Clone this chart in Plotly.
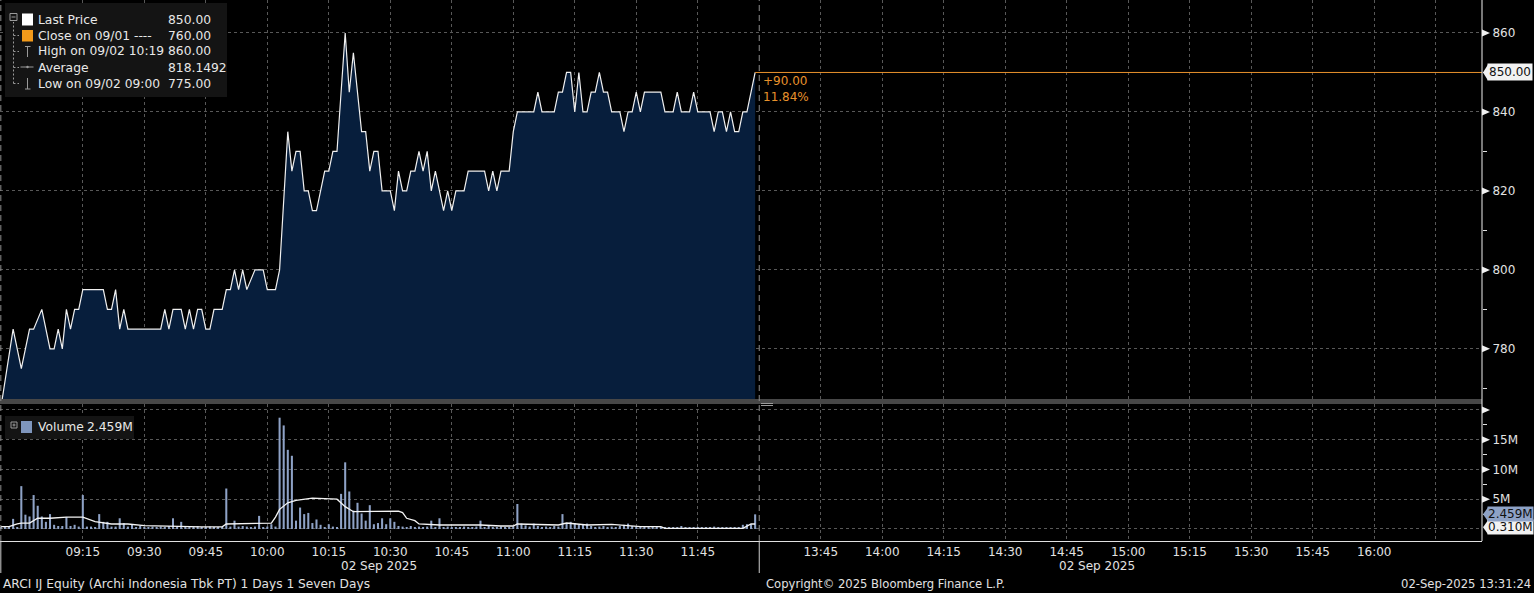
import plotly.graph_objects as go

# ---------------- data ----------------
price_times = ["08:55", "08:58", "09:00", "09:02", "09:03", "09:05", "09:07", "09:08", "09:09", "09:10",
               "09:11", "09:12", "09:13", "09:14", "09:15", "09:20", "09:21", "09:22", "09:23", "09:24",
               "09:25", "09:26", "09:34", "09:35", "09:36", "09:37", "09:39", "09:40", "09:41", "09:42",
               "09:43", "09:44", "09:45", "09:46", "09:47", "09:49", "09:50", "09:51", "09:52", "09:53",
               "09:54", "09:55", "09:57", "09:59", "10:00", "10:02", "10:03", "10:05", "10:06", "10:07",
               "10:08", "10:09", "10:10", "10:11", "10:12", "10:13", "10:14", "10:15", "10:16", "10:17",
               "10:19", "10:20", "10:21", "10:23", "10:24", "10:25", "10:26", "10:27", "10:28", "10:30",
               "10:31", "10:32", "10:33", "10:34", "10:35", "10:36", "10:37", "10:38", "10:39", "10:40",
               "10:41", "10:43", "10:44", "10:45", "10:46", "10:48", "10:49", "10:53", "10:54", "10:55",
               "10:56", "10:57", "10:59", "11:00", "11:01", "11:05", "11:06", "11:07", "11:10", "11:11",
               "11:12", "11:13", "11:14", "11:15", "11:16", "11:17", "11:18", "11:19", "11:20", "11:21",
               "11:22", "11:23", "11:24", "11:26", "11:27", "11:28", "11:29", "11:30", "11:31", "11:32",
               "11:36", "11:37", "11:39", "11:40", "11:41", "11:43", "11:44", "11:45", "11:48", "11:49",
               "11:50", "11:51", "11:52", "11:53", "11:54", "11:55", "11:56", "11:57", "11:59"]
price_values = [765, 785, 775, 785, 785, 790, 780, 780, 785, 780,
                790, 785, 790, 790, 795, 795, 790, 790, 795, 785,
                790, 785, 785, 790, 785, 790, 790, 785, 790, 785,
                790, 790, 785, 785, 790, 790, 795, 795, 800, 795,
                800, 795, 800, 800, 795, 795, 800, 835, 825, 830,
                830, 820, 820, 815, 815, 820, 825, 825, 830, 830,
                860, 845, 855, 835, 835, 825, 830, 830, 820, 820,
                815, 825, 820, 820, 825, 825, 830, 825, 830, 820,
                825, 815, 820, 815, 820, 820, 825, 825, 820, 825,
                820, 825, 825, 835, 840, 840, 845, 840, 840, 845,
                845, 850, 850, 840, 850, 840, 840, 845, 845, 850,
                845, 845, 840, 840, 835, 840, 840, 845, 840, 845,
                845, 840, 840, 845, 840, 840, 845, 840, 840, 835,
                840, 840, 835, 840, 835, 835, 840, 840, 850]

vol_start = "08:55"   # one bar per minute from this time
volume_m = [0.3, 0.2, 0.3, 1.7, 0.3, 7.2, 2.4, 2.1, 5.7, 3.9,
            2.1, 1.2, 2.5, 0.7, 0.5, 0.5, 2.0, 0.5, 0.7, 0.4,
            5.7, 0.4, 0.4, 0.3, 2.5, 1.2, 1.2, 0.4, 0.4, 1.8,
            1.0, 0.4, 0.7, 0.3, 0.5, 0.3, 0.3, 0.4, 0.3, 0.4,
            0.3, 0.5, 1.8, 0.3, 1.2, 0.3, 0.4, 0.3, 0.5, 0.3,
            0.3, 0.4, 0.3, 0.3, 0.3, 6.8, 0.4, 1.4, 0.4, 0.5,
            0.4, 0.3, 0.4, 2.2, 0.3, 0.4, 0.8, 0.4, 18.7, 17.4,
            13.3, 12.3, 1.4, 3.6, 2.5, 2.7, 1.0, 1.6, 0.7, 0.3,
            0.8, 0.4, 0.3, 5.9, 11.2, 6.3, 3.1, 4.4, 2.6, 1.4,
            4.0, 0.8, 1.0, 1.8, 0.8, 1.8, 1.2, 0.5, 0.4, 0.3,
            0.5, 0.3, 0.4, 0.3, 0.4, 1.4, 0.3, 1.8, 0.3, 0.4,
            0.3, 0.3, 0.3, 0.4, 0.3, 0.3, 0.4, 1.4, 0.3, 0.5,
            0.3, 0.3, 0.4, 0.3, 0.3, 0.4, 4.2, 0.9, 0.6, 0.4,
            0.9, 0.5, 0.3, 0.4, 0.3, 0.5, 0.4, 2.5, 1.0, 1.2,
            1.0, 0.7, 0.7, 0.9, 0.5, 0.3, 0.4, 0.5, 0.3, 0.4,
            0.3, 0.5, 0.7, 0.9, 0.5, 0.3, 0.3, 0.4, 0.3, 0.3,
            0.4, 0.3, 0.3, 0.3, 0.3, 0.3, 0.5, 0.3, 0.3, 0.3,
            0.3, 0.3, 0.3, 0.3, 0.4, 0.3, 0.3, 0.3, 0.3, 0.3,
            0.3, 0.7, 0.8, 0.8, 2.459]

vol_avg_times = ["08:55", "08:57", "08:59", "09:00", "09:02", "09:04", "09:07", "09:11", "09:15", "09:18",
                 "09:22", "09:26", "09:30", "09:35", "09:44", "09:49", "09:50", "10:01", "10:02", "10:03",
                 "10:05", "10:07", "10:11", "10:17", "10:19", "10:21", "10:28", "10:32", "10:33", "10:34",
                 "10:36", "10:37", "10:42", "10:52", "10:57", "11:00", "11:01", "11:11", "11:13", "11:18",
                 "11:24", "11:28", "11:31", "11:36", "11:37", "11:56", "11:58", "11:59"]
vol_avg_m = [0.4, 0.4, 0.84, 1.0, 1.0, 1.8, 1.8, 2.0, 2.0, 1.25,
             0.84, 0.84, 0.56, 0.45, 0.35, 0.35, 0.84, 1.0, 2.0, 3.3,
             4.4, 4.8, 5.2, 5.0, 3.75, 2.9, 2.9, 3.0, 2.75, 1.8,
             1.4, 0.84, 0.67, 0.67, 0.5, 0.5, 0.84, 0.67, 1.0, 0.67,
             0.78, 0.5, 0.4, 0.4, 0.1, 0.1, 0.84, 0.84]

x_tick_labels = ["09:15", "09:30", "09:45", "10:00", "10:15", "10:30", "10:45", "11:00", "11:15", "11:30",
                 "11:45", "13:45", "14:00", "14:15", "14:30", "14:45", "15:00", "15:15", "15:30", "15:45",
                 "16:00"]
x_extra_grid = ["16:15"]
price_ticks = [780, 800, 820, 840, 860]
price_minor = [770, 790, 810, 830, 850]
vol_ticks = [0, 5, 10, 15, 20]
vol_tick_text = ["", "5M", "10M", "15M", ""]
vol_minor = [2.5, 7.5, 12.5, 17.5]

legend_rows = [("Last Price", "850.00"), ("Close on 09/01 ----", "760.00"),
               ("High on 09/02 10:19", "860.00"), ("Average", "818.1492"),
               ("Low on 09/02 09:00", "775.00")]
last_price = 850.00
prev_close = 760.00
last_volume = 2.459
vol_avg_last = 0.310
session_breaks = ["08:55", "12:00"]


def tmin(t):
    """session minutes from 09:00, lunch break (12:00-13:30) removed"""
    h, m = map(int, t.split(":"))
    v = (h - 9) * 60 + m
    if h >= 13:
        v -= 90
    return v


def minute_after(start, k):
    return tmin(start) + k


# ---------------- geometry helpers ----------------
W, H = 1534, 593
MR, MB = 52, 52
PW, PH = W - MR, H - MB


def px(x):
    return x / PW


def py(y):
    return 1 - y / PH


X_RANGE = [-5.2, 356.3]
BG = "#000000"
GRID = "#585858"
TXT = "#e2e2e2"
FONT = "DejaVu Sans"
ORANGE = "#e8922c"
VOLC = "#8ea2c6"

px_x = [tmin(t) for t in price_times]
vol_x = [minute_after(vol_start, k) for k in range(len(volume_m))]
avg_x = [tmin(t) for t in vol_avg_times]

fig = go.Figure()
fig.add_trace(go.Scatter(x=px_x, y=price_values, mode="lines", fill="tozeroy",
                         fillcolor="#071e3c", line=dict(color="#f0f0f0", width=1.2),
                         xaxis="x", yaxis="y", hoverinfo="skip"))
fig.add_trace(go.Scatter(x=[px_x[-1], X_RANGE[1]], y=[last_price, last_price], mode="lines",
                         line=dict(color=ORANGE, width=1), xaxis="x", yaxis="y", hoverinfo="skip"))
fig.add_trace(go.Bar(x=vol_x, y=volume_m, width=0.5, marker=dict(color=VOLC, line=dict(width=0)),
                     xaxis="x2", yaxis="y2", hoverinfo="skip"))
fig.add_trace(go.Scatter(x=avg_x, y=vol_avg_m, mode="lines", line=dict(color="#f4f4f4", width=1.3),
                         xaxis="x2", yaxis="y2", hoverinfo="skip"))

grid_vals = [tmin(t) for t in x_tick_labels + x_extra_grid]
grid_text = x_tick_labels + ["" for _ in x_extra_grid]

common_x = dict(range=X_RANGE, tickvals=grid_vals, ticktext=grid_text, showgrid=True,
                gridcolor=GRID, griddash="dot", gridwidth=1, zeroline=False, ticks="",
                fixedrange=True)
fig.update_layout(
    xaxis=dict(**common_x, domain=[0, 1], anchor="y", showticklabels=False, showline=False),
    xaxis2=dict(**common_x, domain=[0, 1], anchor="y2", showticklabels=True,
                tickfont=dict(family=FONT, size=12, color=TXT), showline=True,
                linecolor="#e0e0e0", linewidth=1),
    yaxis=dict(domain=[py(399), 1], range=[767.3, 868.35], side="right", tickvals=price_ticks,
               ticktext=[str(v) for v in price_ticks], showgrid=True, gridcolor=GRID,
               griddash="dot", zeroline=False, ticks="outside", ticklen=7,
               tickcolor="rgba(0,0,0,0)", tickfont=dict(family=FONT, size=12, color=TXT),
               minor=dict(tickvals=price_minor, ticks="outside", ticklen=4, tickcolor="#e0e0e0",
                          tickwidth=1, showgrid=False),
               anchor="x", showline=False),
    yaxis2=dict(domain=[0, py(404)], range=[-2.02, 21.0], side="right", tickvals=vol_ticks,
                ticktext=vol_tick_text, showgrid=True, gridcolor=GRID, griddash="dot",
                zeroline=False, ticks="outside", ticklen=7, tickcolor="rgba(0,0,0,0)",
                tickfont=dict(family=FONT, size=12, color=TXT),
                minor=dict(tickvals=vol_minor, ticks="outside", ticklen=4, tickcolor="#e0e0e0",
                           tickwidth=1, showgrid=False),
                anchor="x2", showline=False),
    paper_bgcolor=BG, plot_bgcolor=BG, showlegend=False,
    width=W, height=H, margin=dict(l=0, r=MR, t=0, b=MB, pad=0, autoexpand=False),
    font=dict(family=FONT, color=TXT),
)

shapes = []
# separator band between panels
shapes.append(dict(type="rect", xref="paper", yref="paper", x0=0, x1=1, y0=py(404), y1=py(399),
                   fillcolor="#474747", line=dict(width=0), layer="above"))
shapes.append(dict(type="line", xref="paper", yref="paper", x0=px(761), x1=px(773), y0=py(403.5), y1=py(403.5),
                   line=dict(color="#9a9a9a", width=1), layer="above"))
shapes.append(dict(type="line", xref="paper", yref="paper", x0=px(761), x1=px(773), y0=py(405.5), y1=py(405.5),
                   line=dict(color="#9a9a9a", width=1), layer="above"))
# session break dashed lines
for t in session_breaks:
    shapes.append(dict(type="line", xref="x", yref="paper", x0=tmin(t), x1=tmin(t), y0=0, y1=1,
                       line=dict(color="#8c8c8c", width=1, dash="6px,4px"), layer="above"))
    shapes.append(dict(type="line", xref="x", yref="paper", x0=tmin(t), x1=tmin(t), y0=py(573), y1=0,
                       line=dict(color="#cfcfcf", width=1), layer="above"))
# right axis line
shapes.append(dict(type="line", xref="paper", yref="paper", x0=1, x1=1, y0=0, y1=1,
                   line=dict(color="#f0f0f0", width=1), layer="above"))
# triangle ticks
for v in price_ticks:
    shapes.append(dict(type="path", xref="paper", xsizemode="pixel", xanchor=1, yref="y",
                       ysizemode="pixel", yanchor=v, path="M0,-3.5 L8,0 L0,3.5 Z",
                       fillcolor="#f0f0f0", line=dict(width=0), layer="above"))
for v in vol_ticks[1:]:
    shapes.append(dict(type="path", xref="paper", xsizemode="pixel", xanchor=1, yref="y2",
                       ysizemode="pixel", yanchor=v, path="M0,-3.5 L8,0 L0,3.5 Z",
                       fillcolor="#f0f0f0", line=dict(width=0), layer="above"))

# legend box (price)
shapes.append(dict(type="rect", xref="paper", yref="paper", x0=px(5), x1=px(227), y0=py(97), y1=py(3),
                   fillcolor="#141414", line=dict(width=0), layer="above"))
LG = "#9a9a9a"
ROW_Y = [19.5 + 16 * i for i in range(len(legend_rows))]
shapes.append(dict(type="rect", xref="paper", yref="paper", x0=px(10), x1=px(17), y0=py(20.5), y1=py(13.5),
                   line=dict(color=LG, width=1), layer="above"))
shapes.append(dict(type="line", xref="paper", yref="paper", x0=px(11.5), x1=px(15.5), y0=py(17), y1=py(17),
                   line=dict(color=LG, width=1), layer="above"))
shapes.append(dict(type="line", xref="paper", yref="paper", x0=px(13.5), x1=px(13.5), y0=py(ROW_Y[-1]), y1=py(22),
                   line=dict(color=LG, width=1, dash="2px,2px"), layer="above"))
for yy in ROW_Y[1:]:
    shapes.append(dict(type="line", xref="paper", yref="paper", x0=px(13.5), x1=px(19), y0=py(yy), y1=py(yy),
                       line=dict(color=LG, width=1, dash="2px,2px"), layer="above"))
shapes.append(dict(type="rect", xref="paper", yref="paper", x0=px(22), x1=px(33), y0=py(25.5), y1=py(13.5),
                   fillcolor="#ffffff", line=dict(width=0), layer="above"))
shapes.append(dict(type="rect", xref="paper", yref="paper", x0=px(22), x1=px(33), y0=py(41.5), y1=py(30),
                   fillcolor="#f39a1a", line=dict(width=0), layer="above"))
# high icon
shapes.append(dict(type="line", xref="paper", yref="paper", x0=px(25), x1=px(30.5), y0=py(46.5), y1=py(46.5),
                   line=dict(color=LG, width=1), layer="above"))
shapes.append(dict(type="line", xref="paper", yref="paper", x0=px(27.5), x1=px(27.5), y0=py(57), y1=py(46.5),
                   line=dict(color=LG, width=1), layer="above"))
# average icon
shapes.append(dict(type="line", xref="paper", yref="paper", x0=px(20.5), x1=px(33.5), y0=py(67), y1=py(67),
                   line=dict(color=LG, width=1), layer="above"))
shapes.append(dict(type="circle", xref="paper", yref="paper", x0=px(26.3), x1=px(28.7), y0=py(68.2), y1=py(65.8),
                   fillcolor=LG, line=dict(width=0), layer="above"))
# low icon
shapes.append(dict(type="line", xref="paper", yref="paper", x0=px(27.5), x1=px(27.5), y0=py(89), y1=py(78),
                   line=dict(color=LG, width=1), layer="above"))
shapes.append(dict(type="line", xref="paper", yref="paper", x0=px(25), x1=px(30.5), y0=py(89), y1=py(89),
                   line=dict(color=LG, width=1), layer="above"))

# legend box (volume)
shapes.append(dict(type="rect", xref="paper", yref="paper", x0=px(5), x1=px(134), y0=py(439), y1=py(416),
                   fillcolor="#141414", line=dict(width=0), layer="above"))
shapes.append(dict(type="rect", xref="paper", yref="paper", x0=px(11), x1=px(17), y0=py(428), y1=py(422),
                   line=dict(color=LG, width=1), layer="above"))
shapes.append(dict(type="line", xref="paper", yref="paper", x0=px(12.5), x1=px(15.5), y0=py(425), y1=py(425),
                   line=dict(color=LG, width=1), layer="above"))
shapes.append(dict(type="line", xref="paper", yref="paper", x0=px(14), x1=px(14), y0=py(426.5), y1=py(423.5),
                   line=dict(color=LG, width=1), layer="above"))
shapes.append(dict(type="rect", xref="paper", yref="paper", x0=px(21), x1=px(32), y0=py(433), y1=py(421),
                   fillcolor="#7f96bd", line=dict(width=0), layer="above"))

# right-axis value tag pointers
shapes.append(dict(type="path", xref="paper", xsizemode="pixel", xanchor=1, yref="y", ysizemode="pixel",
                   yanchor=last_price, path="M1,0 L6,-8 L6,8 Z", fillcolor="#f2f2f2",
                   line=dict(width=0), layer="above"))
shapes.append(dict(type="path", xref="paper", xsizemode="pixel", xanchor=1, yref="y2", ysizemode="pixel",
                   yanchor=vol_avg_last, path="M1,0 L6,-7 L6,7 Z", fillcolor="#f2f2f2",
                   line=dict(width=0), layer="above"))
shapes.append(dict(type="path", xref="paper", xsizemode="pixel", xanchor=1, yref="y2", ysizemode="pixel",
                   yanchor=last_volume, path="M1,0 L6,-7 L6,7 Z", fillcolor=VOLC,
                   line=dict(width=0), layer="above"))

fig.update_layout(shapes=shapes)

ann = []
LF = dict(family=FONT, size=12.3, color="#e8e8e8")
for (label, val), yy in zip(legend_rows, ROW_Y):
    ann.append(dict(xref="paper", yref="paper", x=px(36), y=py(yy), text=label, showarrow=False,
                    xanchor="left", yanchor="middle", font=LF))
    ann.append(dict(xref="paper", yref="paper", x=px(166), y=py(yy), text=val, showarrow=False,
                    xanchor="left", yanchor="middle", font=LF))
ann.append(dict(xref="paper", yref="paper", x=px(36), y=py(427), text="Volume", showarrow=False,
                xanchor="left", yanchor="middle", font=LF))
ann.append(dict(xref="paper", yref="paper", x=px(85), y=py(427), text=f"{last_volume:.3f}M", showarrow=False,
                xanchor="left", yanchor="middle", font=LF))

chg = last_price - prev_close
ann.append(dict(xref="paper", yref="paper", x=px(761), y=py(81), text=f"+{chg:.2f}", showarrow=False,
                xanchor="left", yanchor="middle", font=dict(family=FONT, size=12, color=ORANGE)))
ann.append(dict(xref="paper", yref="paper", x=px(761), y=py(97), text=f"{chg / prev_close * 100:.2f}%",
                showarrow=False, xanchor="left", yanchor="middle",
                font=dict(family=FONT, size=12, color=ORANGE)))

# right axis value tags
ann.append(dict(xref="paper", yref="y2", x=px(1487), y=vol_avg_last, text=f"{vol_avg_last:.3f}M",
                showarrow=False, xanchor="left", yanchor="middle", bgcolor="#f2f2f2", borderpad=0,
                font=dict(family=FONT, size=12, color="#111111")))
ann.append(dict(xref="paper", yref="y2", x=px(1487), y=last_volume, text=f"{last_volume:.3f}M",
                showarrow=False, xanchor="left", yanchor="middle", bgcolor=VOLC, borderpad=0,
                font=dict(family=FONT, size=12, color="#111111")))
ann.append(dict(xref="paper", yref="y", x=px(1487), y=last_price, text=f"{last_price:.2f}",
                showarrow=False, xanchor="left", yanchor="middle", bgcolor="#f2f2f2", borderpad=1,
                font=dict(family=FONT, size=12, color="#111111")))

# date labels under axis
for xc in [379, 1097]:
    ann.append(dict(xref="paper", yref="paper", x=px(xc), y=py(566), text="02 Sep 2025", showarrow=False,
                    xanchor="center", yanchor="middle", font=dict(family=FONT, size=12, color=TXT)))
# footer
ann.append(dict(xref="paper", yref="paper", x=px(1), y=py(584), text="ARCI IJ Equity (Archi Indonesia Tbk PT) 1 Days 1 Seven Days",
                showarrow=False, xanchor="left", yanchor="middle", font=dict(family=FONT, size=12.2, color=TXT)))
ann.append(dict(xref="paper", yref="paper", x=px(764), y=py(584), text="Copyright© 2025 Bloomberg Finance L.P.",
                showarrow=False, xanchor="left", yanchor="middle", font=dict(family=FONT, size=11.6, color=TXT)))
ann.append(dict(xref="paper", yref="paper", x=px(1533), y=py(584), text="02-Sep-2025 13:31:24",
                showarrow=False, xanchor="right", yanchor="middle", font=dict(family=FONT, size=11.6, color=TXT)))

fig.update_layout(annotations=ann)
fig.write_html("out.html", config={"displayModeBar": False},
               post_script="document.body.style.margin='0px';document.body.style.overflow='hidden';")
